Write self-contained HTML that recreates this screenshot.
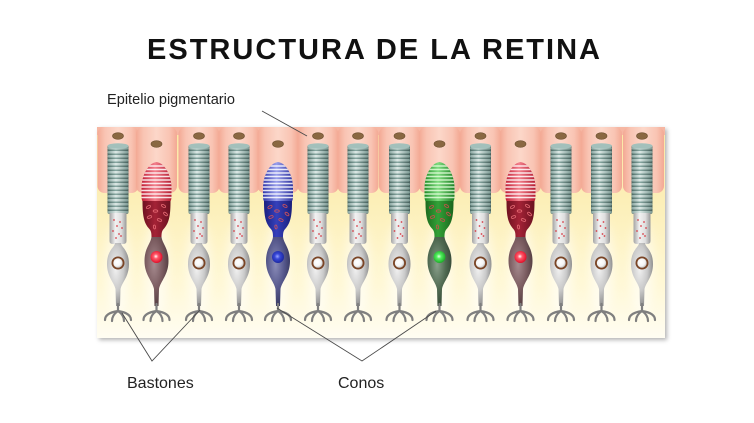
<!DOCTYPE html>
<html><head><meta charset="utf-8"><style>
html,body{margin:0;padding:0;background:#fff;width:754px;height:423px;overflow:hidden}
svg{display:block}
</style></head><body>
<svg width="754" height="423" viewBox="0 0 754 423" xmlns="http://www.w3.org/2000/svg">
<defs>
<filter id="sh" x="-5%" y="-5%" width="115%" height="120%"><feDropShadow dx="2" dy="2" stdDeviation="2" flood-color="#000" flood-opacity="0.3"/></filter>
<filter id="bl" x="-100%" y="-100%" width="300%" height="300%"><feGaussianBlur stdDeviation="5"/></filter>
<linearGradient id="bg" gradientUnits="userSpaceOnUse" x1="0" y1="127" x2="0" y2="338">
<stop offset="0" stop-color="#fbe7a4"/><stop offset="0.35" stop-color="#fcefb8"/><stop offset="0.75" stop-color="#fff8d6"/><stop offset="1" stop-color="#fffdf2"/></linearGradient>
<linearGradient id="epi" x1="0" x2="1" y1="0" y2="0">
<stop offset="0" stop-color="#f3a994"/><stop offset="0.18" stop-color="#f9c4b3"/><stop offset="0.5" stop-color="#fcd7c9"/><stop offset="0.82" stop-color="#f9c4b3"/><stop offset="1" stop-color="#f3a994"/></linearGradient>
<linearGradient id="arch" x1="0" x2="0" y1="0" y2="1">
<stop offset="0" stop-color="#fde0b0"/><stop offset="1" stop-color="#fcecbc"/></linearGradient>
<linearGradient id="cyl" x1="0" x2="1"><stop offset="0" stop-color="#4c6863"/><stop offset="0.4" stop-color="#87a8a2"/><stop offset="1" stop-color="#475f5b"/></linearGradient>
<linearGradient id="disc" x1="0" x2="1"><stop offset="0" stop-color="#86a49e"/><stop offset="0.4" stop-color="#dce8e5"/><stop offset="1" stop-color="#7a9892"/></linearGradient>
<linearGradient id="inner" x1="0" x2="1"><stop offset="0" stop-color="#a4a4a4"/><stop offset="0.35" stop-color="#f2f2f2"/><stop offset="0.7" stop-color="#dedede"/><stop offset="1" stop-color="#999"/></linearGradient>
<radialGradient id="rbody" cx="0.4" cy="0.4" r="0.65"><stop offset="0" stop-color="#f2f2f2"/><stop offset="0.55" stop-color="#c9c9c9"/><stop offset="1" stop-color="#858585"/></radialGradient>
<radialGradient id="nw" cx="0.4" cy="0.4" r="0.6"><stop offset="0" stop-color="#fff"/><stop offset="0.7" stop-color="#f4f4f4"/><stop offset="1" stop-color="#c9c9c9"/></radialGradient>
<linearGradient id="oR" x1="0" x2="1"><stop offset="0" stop-color="#c01d34"/><stop offset="0.45" stop-color="#f3808c"/><stop offset="1" stop-color="#b41a2f"/></linearGradient>
<linearGradient id="iR" x1="0" x2="1"><stop offset="0" stop-color="#6e1220"/><stop offset="0.45" stop-color="#a42236"/><stop offset="1" stop-color="#6a1220"/></linearGradient>
<radialGradient id="bR" cx="0.4" cy="0.4" r="0.65"><stop offset="0" stop-color="#a58a8e"/><stop offset="0.55" stop-color="#7b5c60"/><stop offset="1" stop-color="#4f3a3d"/></radialGradient>
<radialGradient id="nR" cx="0.45" cy="0.45" r="0.55"><stop offset="0" stop-color="#fff"/><stop offset="0.35" stop-color="#ff5a6a"/><stop offset="1" stop-color="#e0102a"/></radialGradient>
<linearGradient id="oB" x1="0" x2="1"><stop offset="0" stop-color="#2f34a8"/><stop offset="0.45" stop-color="#9aa0ec"/><stop offset="1" stop-color="#2b2f9c"/></linearGradient>
<linearGradient id="iB" x1="0" x2="1"><stop offset="0" stop-color="#1b2080"/><stop offset="0.45" stop-color="#3540bb"/><stop offset="1" stop-color="#1a1f7a"/></linearGradient>
<radialGradient id="bB" cx="0.4" cy="0.4" r="0.65"><stop offset="0" stop-color="#8a8cb8"/><stop offset="0.55" stop-color="#56588c"/><stop offset="1" stop-color="#35365e"/></radialGradient>
<radialGradient id="nB" cx="0.45" cy="0.45" r="0.55"><stop offset="0" stop-color="#9aa6ff"/><stop offset="0.4" stop-color="#3848d8"/><stop offset="1" stop-color="#1c28a0"/></radialGradient>
<linearGradient id="oG" x1="0" x2="1"><stop offset="0" stop-color="#1f8a24"/><stop offset="0.45" stop-color="#7fdc80"/><stop offset="1" stop-color="#1c7e22"/></linearGradient>
<linearGradient id="iG" x1="0" x2="1"><stop offset="0" stop-color="#1c6a1e"/><stop offset="0.45" stop-color="#33a238"/><stop offset="1" stop-color="#1a651c"/></linearGradient>
<radialGradient id="bG" cx="0.4" cy="0.4" r="0.65"><stop offset="0" stop-color="#8aa08b"/><stop offset="0.55" stop-color="#506a52"/><stop offset="1" stop-color="#334634"/></radialGradient>
<radialGradient id="nG" cx="0.45" cy="0.45" r="0.55"><stop offset="0" stop-color="#e8ffe8"/><stop offset="0.35" stop-color="#54f060"/><stop offset="1" stop-color="#1faa2a"/></radialGradient>

<clipPath id="cc"><path d="M0 162 C8 163 15 175 15 188 L15 197 Q15 202 12 202 L-12 202 Q-15 202 -15 197 L-15 188 C-15 175 -8 163 0 162Z"/></clipPath>

<g id="foot" fill="none" stroke="#7f7f7f" stroke-width="2.2" stroke-linecap="round">
<path d="M0 304 L0 311 M-13 320 Q-13 313 0 311 Q13 313 13 320 M-6 321 Q-6 315 0 311 M6 321 Q6 315 0 311"/>
</g>

<g id="rod">
<rect x="-10.5" y="145" width="21" height="69" rx="2" fill="url(#cyl)"/>
<g fill="url(#disc)">
<rect x="-10.5" y="147" width="21" height="2.5" rx="1.2"/><rect x="-10.5" y="151" width="21" height="2.5" rx="1.2"/>
<rect x="-10.5" y="155" width="21" height="2.5" rx="1.2"/><rect x="-10.5" y="159" width="21" height="2.5" rx="1.2"/>
<rect x="-10.5" y="163" width="21" height="2.5" rx="1.2"/><rect x="-10.5" y="167" width="21" height="2.5" rx="1.2"/>
<rect x="-10.5" y="171" width="21" height="2.5" rx="1.2"/><rect x="-10.5" y="175" width="21" height="2.5" rx="1.2"/>
<rect x="-10.5" y="179" width="21" height="2.5" rx="1.2"/><rect x="-10.5" y="183" width="21" height="2.5" rx="1.2"/>
<rect x="-10.5" y="187" width="21" height="2.5" rx="1.2"/><rect x="-10.5" y="191" width="21" height="2.5" rx="1.2"/>
<rect x="-10.5" y="195" width="21" height="2.5" rx="1.2"/><rect x="-10.5" y="199" width="21" height="2.5" rx="1.2"/>
<rect x="-10.5" y="203" width="21" height="2.5" rx="1.2"/><rect x="-10.5" y="207" width="21" height="2.5" rx="1.2"/>
<rect x="-10.5" y="211" width="21" height="2.5" rx="1.2"/>
</g>
<ellipse cx="0" cy="146" rx="10.5" ry="2.8" fill="#a3c0bb"/>
<path d="M-8.5 213 L8.5 213 L8.5 241 Q8.5 244 5 244 L-5 244 Q-8.5 244 -8.5 241Z" fill="url(#inner)"/>
<g fill="#d8404a"><circle cx="-4" cy="220" r="0.9"/><circle cx="2" cy="222" r="0.9"/><circle cx="-1" cy="226" r="0.9"/><circle cx="4" cy="228" r="0.9"/><circle cx="-5" cy="231" r="0.9"/><circle cx="1" cy="234" r="0.9"/><circle cx="-2" cy="238" r="0.9"/><circle cx="3" cy="236" r="0.9"/></g>
<path d="M-3 243 C-3 247 -11 250 -11 264 C-11 277 -4 282 -2.5 289 L-2 306 L2 306 L2.5 289 C4 282 11 277 11 264 C11 250 3 247 3 243Z" fill="url(#rbody)"/>
<circle cx="0" cy="263" r="6.5" fill="#7a4526"/>
<circle cx="0" cy="263" r="4.7" fill="url(#nw)"/>
<use href="#foot"/>
</g>

<g id="mito" fill="none" stroke-width="0.8">
<ellipse cx="-8" cy="207" rx="2.3" ry="1.2" transform="rotate(-30 -8 207)"/><ellipse cx="7" cy="206" rx="2.3" ry="1.2" transform="rotate(30 7 206)"/><ellipse cx="-1" cy="211" rx="2.3" ry="1.2"/><ellipse cx="9" cy="214" rx="2.3" ry="1.2" transform="rotate(40 9 214)"/><ellipse cx="-7" cy="217" rx="2.3" ry="1.2" transform="rotate(-20 -7 217)"/><ellipse cx="3" cy="220" rx="2.3" ry="1.2" transform="rotate(20 3 220)"/><ellipse cx="-2" cy="227" rx="2" ry="1.1" transform="rotate(80 -2 227)"/>
</g>

<g id="coneR">
<path d="M0 162 C8 163 15 175 15 188 L15 197 Q15 202 12 202 L-12 202 Q-15 202 -15 197 L-15 188 C-15 175 -8 163 0 162Z" fill="url(#oR)"/>
<g clip-path="url(#cc)" stroke="#fff" stroke-opacity="0.85" stroke-width="1.4"><path d="M-16 166H16M-16 169.5H16M-16 173H16M-16 176.5H16M-16 180H16M-16 183.5H16M-16 187H16M-16 190.5H16M-16 194H16M-16 197.5H16"/></g>
<path d="M-14 201 C-14 214 -13 222 -8 228 C-5 231 -5 233 -5 239 L5 239 C5 233 5 231 8 228 C13 222 14 214 14 201Z" fill="url(#iR)"/>
<use href="#mito" stroke="#e56a74"/>
<path d="M-5 237 C-6 244 -12 248 -12 261 C-12 275 -4 281 -2.5 289 L-2 306 L2 306 L2.5 289 C4 281 12 275 12 261 C12 248 6 244 5 237Z" fill="url(#bR)"/>
<circle cx="0" cy="257" r="6" fill="url(#nR)"/>
<use href="#foot"/>
</g>

<g id="coneB">
<path d="M0 162 C8 163 15 175 15 188 L15 197 Q15 202 12 202 L-12 202 Q-15 202 -15 197 L-15 188 C-15 175 -8 163 0 162Z" fill="url(#oB)"/>
<g clip-path="url(#cc)" stroke="#fff" stroke-opacity="0.85" stroke-width="1.4"><path d="M-16 166H16M-16 169.5H16M-16 173H16M-16 176.5H16M-16 180H16M-16 183.5H16M-16 187H16M-16 190.5H16M-16 194H16M-16 197.5H16"/></g>
<path d="M-14 201 C-14 214 -13 222 -8 228 C-5 231 -5 233 -5 239 L5 239 C5 233 5 231 8 228 C13 222 14 214 14 201Z" fill="url(#iB)"/>
<use href="#mito" stroke="#d0525a"/>
<path d="M-5 237 C-6 244 -12 248 -12 261 C-12 275 -4 281 -2.5 289 L-2 306 L2 306 L2.5 289 C4 281 12 275 12 261 C12 248 6 244 5 237Z" fill="url(#bB)"/>
<circle cx="0" cy="257" r="6" fill="url(#nB)"/>
<use href="#foot"/>
</g>

<g id="coneG">
<path d="M0 162 C8 163 15 175 15 188 L15 197 Q15 202 12 202 L-12 202 Q-15 202 -15 197 L-15 188 C-15 175 -8 163 0 162Z" fill="url(#oG)"/>
<g clip-path="url(#cc)" stroke="#e8ffe0" stroke-opacity="0.8" stroke-width="1.4"><path d="M-16 166H16M-16 169.5H16M-16 173H16M-16 176.5H16M-16 180H16M-16 183.5H16M-16 187H16M-16 190.5H16M-16 194H16M-16 197.5H16"/></g>
<path d="M-14 201 C-14 214 -13 222 -8 228 C-5 231 -5 233 -5 239 L5 239 C5 233 5 231 8 228 C13 222 14 214 14 201Z" fill="url(#iG)"/>
<use href="#mito" stroke="#c8504a"/>
<path d="M-5 237 C-6 244 -12 248 -12 261 C-12 275 -4 281 -2.5 289 L-2 306 L2 306 L2.5 289 C4 281 12 275 12 261 C12 248 6 244 5 237Z" fill="url(#bG)"/>
<circle cx="0" cy="257" r="6" fill="url(#nG)"/>
<use href="#foot"/>
</g>

<g id="epiC">
<rect x="-20.5" y="127" width="41" height="66" rx="7" fill="url(#epi)"/>
</g>
<g id="arch">
<path d="M-20 203 C-20 178 -9 157 0 156 C9 157 20 178 20 203Z" fill="url(#arch)" stroke="#f4b09c" stroke-width="1.5"/>
</g>
</defs>

<rect x="97" y="127" width="568" height="211" fill="url(#bg)" filter="url(#sh)"/>
<g fill="#fff" opacity="0.55" filter="url(#bl)">
<ellipse cx="118" cy="268" rx="12" ry="48"/><ellipse cx="156.5" cy="268" rx="12" ry="48"/><ellipse cx="199" cy="268" rx="12" ry="48"/><ellipse cx="239" cy="268" rx="12" ry="48"/><ellipse cx="278" cy="268" rx="12" ry="48"/><ellipse cx="318" cy="268" rx="12" ry="48"/><ellipse cx="358" cy="268" rx="12" ry="48"/><ellipse cx="399.5" cy="268" rx="12" ry="48"/><ellipse cx="439.5" cy="268" rx="12" ry="48"/><ellipse cx="480.5" cy="268" rx="12" ry="48"/><ellipse cx="520.5" cy="268" rx="12" ry="48"/><ellipse cx="561" cy="268" rx="12" ry="48"/><ellipse cx="601.5" cy="268" rx="12" ry="48"/><ellipse cx="642" cy="268" rx="12" ry="48"/>
</g>
<rect x="97" y="127" width="568" height="8" fill="#f6b7a3"/>
<use href="#epiC" x="118"/><use href="#epiC" x="156.5"/><use href="#epiC" x="199"/><use href="#epiC" x="239"/><use href="#epiC" x="278"/><use href="#epiC" x="318"/><use href="#epiC" x="358"/><use href="#epiC" x="399.5"/><use href="#epiC" x="439.5"/><use href="#epiC" x="480.5"/><use href="#epiC" x="520.5"/><use href="#epiC" x="561"/><use href="#epiC" x="601.5"/><use href="#epiC" x="643.5"/>
<use href="#arch" x="156.5"/><use href="#arch" x="278"/><use href="#arch" x="439.5"/><use href="#arch" x="520.5"/>
<g fill="#8a6842" stroke="#6e5030" stroke-width="0.6">
<ellipse cx="118" cy="136" rx="5.5" ry="3.3"/><ellipse cx="156.5" cy="144" rx="5.5" ry="3.3"/><ellipse cx="199" cy="136" rx="5.5" ry="3.3"/><ellipse cx="239" cy="136" rx="5.5" ry="3.3"/><ellipse cx="278" cy="144" rx="5.5" ry="3.3"/><ellipse cx="318" cy="136" rx="5.5" ry="3.3"/><ellipse cx="358" cy="136" rx="5.5" ry="3.3"/><ellipse cx="399.5" cy="136" rx="5.5" ry="3.3"/><ellipse cx="439.5" cy="144" rx="5.5" ry="3.3"/><ellipse cx="480.5" cy="136" rx="5.5" ry="3.3"/><ellipse cx="520.5" cy="144" rx="5.5" ry="3.3"/><ellipse cx="561" cy="136" rx="5.5" ry="3.3"/><ellipse cx="601.5" cy="136" rx="5.5" ry="3.3"/><ellipse cx="642" cy="136" rx="5.5" ry="3.3"/>
</g>
<use href="#rod" x="118"/>
<use href="#coneR" x="156.5"/>
<use href="#rod" x="199"/>
<use href="#rod" x="239"/>
<use href="#coneB" x="278"/>
<use href="#rod" x="318"/>
<use href="#rod" x="358"/>
<use href="#rod" x="399.5"/>
<use href="#coneG" x="439.5"/>
<use href="#rod" x="480.5"/>
<use href="#coneR" x="520.5"/>
<use href="#rod" x="561"/>
<use href="#rod" x="601.5"/>
<use href="#rod" x="642"/>

<g stroke="#4a4a4a" stroke-width="0.9" fill="none">
<line x1="262" y1="111" x2="307" y2="136"/>
<polyline points="122,313 152,361 200,310"/>
<polyline points="277,308 362,361 436,311"/>
</g>

<text x="147" y="59" font-family="'Liberation Sans', Arial, sans-serif" font-weight="bold" font-size="29" textLength="453" lengthAdjust="spacing" fill="#111">ESTRUCTURA DE LA RETINA</text>
<text x="107" y="104" font-family="'Liberation Sans', Arial, sans-serif" font-size="14.5" textLength="128" lengthAdjust="spacingAndGlyphs" fill="#222">Epitelio pigmentario</text>
<text x="127" y="388" font-family="'Liberation Sans', Arial, sans-serif" font-size="16" fill="#222">Bastones</text>
<text x="338" y="388" font-family="'Liberation Sans', Arial, sans-serif" font-size="16" fill="#222">Conos</text>
</svg>
</body></html>
